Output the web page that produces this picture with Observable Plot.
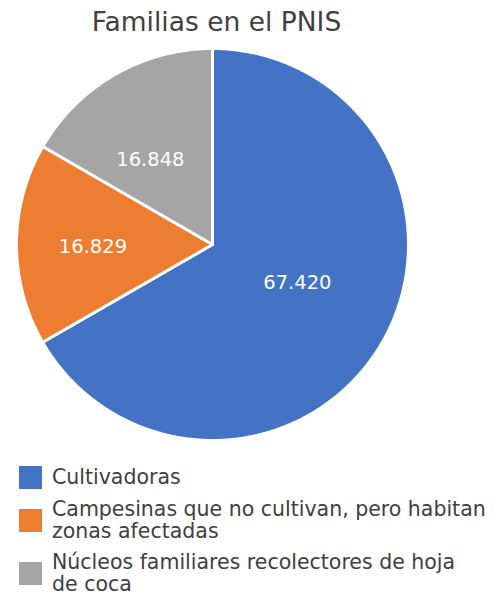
<!DOCTYPE html>
<html>
<head>
<meta charset="utf-8">
<script src="https://cdn.jsdelivr.net/npm/d3@7"></script>
<script src="https://cdn.jsdelivr.net/npm/@observablehq/plot@0.6"></script>
<style>
  html, body { margin: 0; padding: 0; background: #fff; }
  body { width: 501px; height: 596px; position: relative; overflow: hidden; font-family: "DejaVu Sans", sans-serif; }
  #title { position: absolute; left: 0; top: 0; width: 433px; height: 44px; line-height: 44px; text-align: center; font-size: 26.5px; color: #404040; }
  #chart { position: absolute; left: 0; top: 45px; }
  #legend { position: absolute; left: 19px; top: 466px; }
  .item { display: flex; align-items: center; margin-bottom: 10px; }
  .sw { width: 23px; height: 23px; flex: none; margin-right: 10px; }
  .lab { font-size: 20.5px; line-height: 21.5px; color: #404040; white-space: pre; }
</style>
</head>
<body>
<div id="title"></div>
<div id="chart"></div>
<div id="legend"></div>
<script>
const title = "Familias en el PNIS";
const categories = [
  "Cultivadoras",
  "Campesinas que no cultivan, pero habitan\nzonas afectadas",
  "Núcleos familiares recolectores de hoja\nde coca"
];
const values = [67420, 16829, 16848];
const colors = ["#4472C4", "#ED7D31", "#A5A5A5"];

document.getElementById("title").textContent = title;

const fmt = d3.formatLocale({decimal: ",", thousands: ".", grouping: [3], currency: ["", ""]}).format(",");

const table = categories.map((c, i) => ({category: c, value: values[i]}));
const arcs = d3.pie().sort(null).value(d => d.value).startAngle(0).endAngle(2 * Math.PI)(table);

// polygon outline for each slice (center -> arc -> center)
const outline = [];
arcs.forEach(a => {
  const c = a.data.category;
  outline.push({category: c, x: 0, y: 0});
  const n = Math.max(2, Math.ceil((a.endAngle - a.startAngle) / (Math.PI / 360)));
  for (let k = 0; k <= n; k++) {
    const t = a.startAngle + (a.endAngle - a.startAngle) * k / n;
    outline.push({category: c, x: Math.sin(t), y: Math.cos(t)});
  }
  outline.push({category: c, x: 0, y: 0});
});

const nudge = [[0, 0.054], [-0.11, -0.01], [-0.067, 0]];
const labels = arcs.map((a, i) => {
  const m = (a.startAngle + a.endAngle) / 2;
  return {
    x: 0.5 * Math.sin(m) + nudge[i][0],
    y: 0.5 * Math.cos(m) + nudge[i][1],
    text: fmt(a.data.value)
  };
});

const R = 196;
const cx = 212, cy = 199;
const chart = Plot.plot({
  width: 501,
  height: 400,
  margin: 0,
  x: {domain: [-1, 1], range: [cx - R, cx + R], axis: null},
  y: {domain: [-1, 1], range: [cy + R, cy - R], axis: null},
  color: {domain: categories, range: colors},
  style: {background: "transparent", fontFamily: "DejaVu Sans, sans-serif"},
  marks: [
    Plot.line(outline, {x: "x", y: "y", z: "category", fill: "category", stroke: "#ffffff", strokeWidth: 3, strokeLinejoin: "round", curve: "linear"}),
    Plot.text(labels, {x: "x", y: "y", text: "text", fill: "#ffffff", fontSize: 19.5})
  ]
});
document.getElementById("chart").appendChild(chart);

const legend = document.getElementById("legend");
categories.forEach((c, i) => {
  const it = document.createElement("div");
  it.className = "item";
  const sw = document.createElement("div");
  sw.className = "sw";
  sw.style.background = colors[i];
  const lab = document.createElement("div");
  lab.className = "lab";
  lab.textContent = c;
  it.appendChild(sw);
  it.appendChild(lab);
  legend.appendChild(it);
});
</script>
</body>
</html>
